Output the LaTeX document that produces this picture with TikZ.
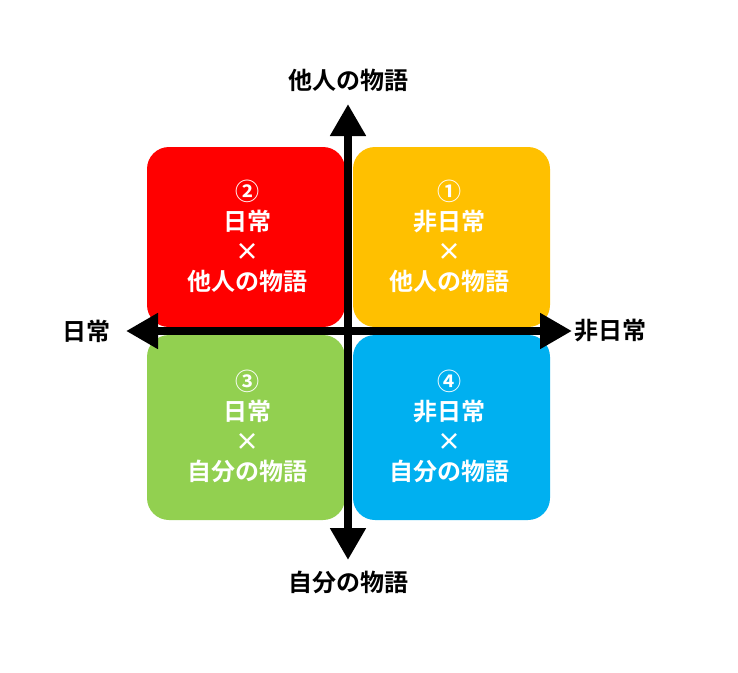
\documentclass[tikz,border=0pt]{standalone}
\usepackage{fontspec}
\setmainfont{Noto Sans CJK JP}[BoldFont={Noto Sans CJK JP Bold}]
\usetikzlibrary{arrows.meta}
\begin{document}
\begin{tikzpicture}[x=1pt,y=-1pt,
  quad/.style={rounded corners=22pt,inner sep=0pt},
  qtext/.style={text=white,font=\bfseries\fontsize{24}{30}\selectfont,align=center},
  axlabel/.style={font=\bfseries\fontsize{24}{26}\selectfont},
  axis/.style={line width=8pt,{Triangle[length=32pt,width=34pt]}-{Triangle[length=32pt,width=34pt]}}]
\useasboundingbox (0,0) rectangle (738,672);
\fill[quad,red] (147,147) rectangle (345,327);
\fill[quad,color={rgb,255:red,255;green,192;blue,0}] (353,147) rectangle (550,327);
\fill[quad,color={rgb,255:red,146;green,208;blue,80}] (147,335) rectangle (345,520);
\fill[quad,color={rgb,255:red,0;green,176;blue,240}] (353,335) rectangle (550,520);
\node[qtext] (q2) at (247,236) {②\\日常\\×\\他人の物語};
\node[qtext] (q1) at (449,236) {①\\非日常\\×\\他人の物語};
\node[qtext] (q3) at (247,426) {③\\日常\\×\\自分の物語};
\node[qtext] (q4) at (449,426) {④\\非日常\\×\\自分の物語};
\coordinate (top) at (348,104);
\coordinate (bot) at (348,560);
\coordinate (lft) at (126,331);
\coordinate (rgt) at (572,331);
\draw[axis] (bot) -- (top);
\draw[axis] (lft) -- (rgt);
\node[axlabel] (lt) at (348,80) {他人の物語};
\node[axlabel] (lb) at (348,582) {自分の物語};
\node[axlabel] (ll) at (86,331) {日常};
\node[axlabel] (lr) at (610,331) {非日常};
\end{tikzpicture}
\end{document}
